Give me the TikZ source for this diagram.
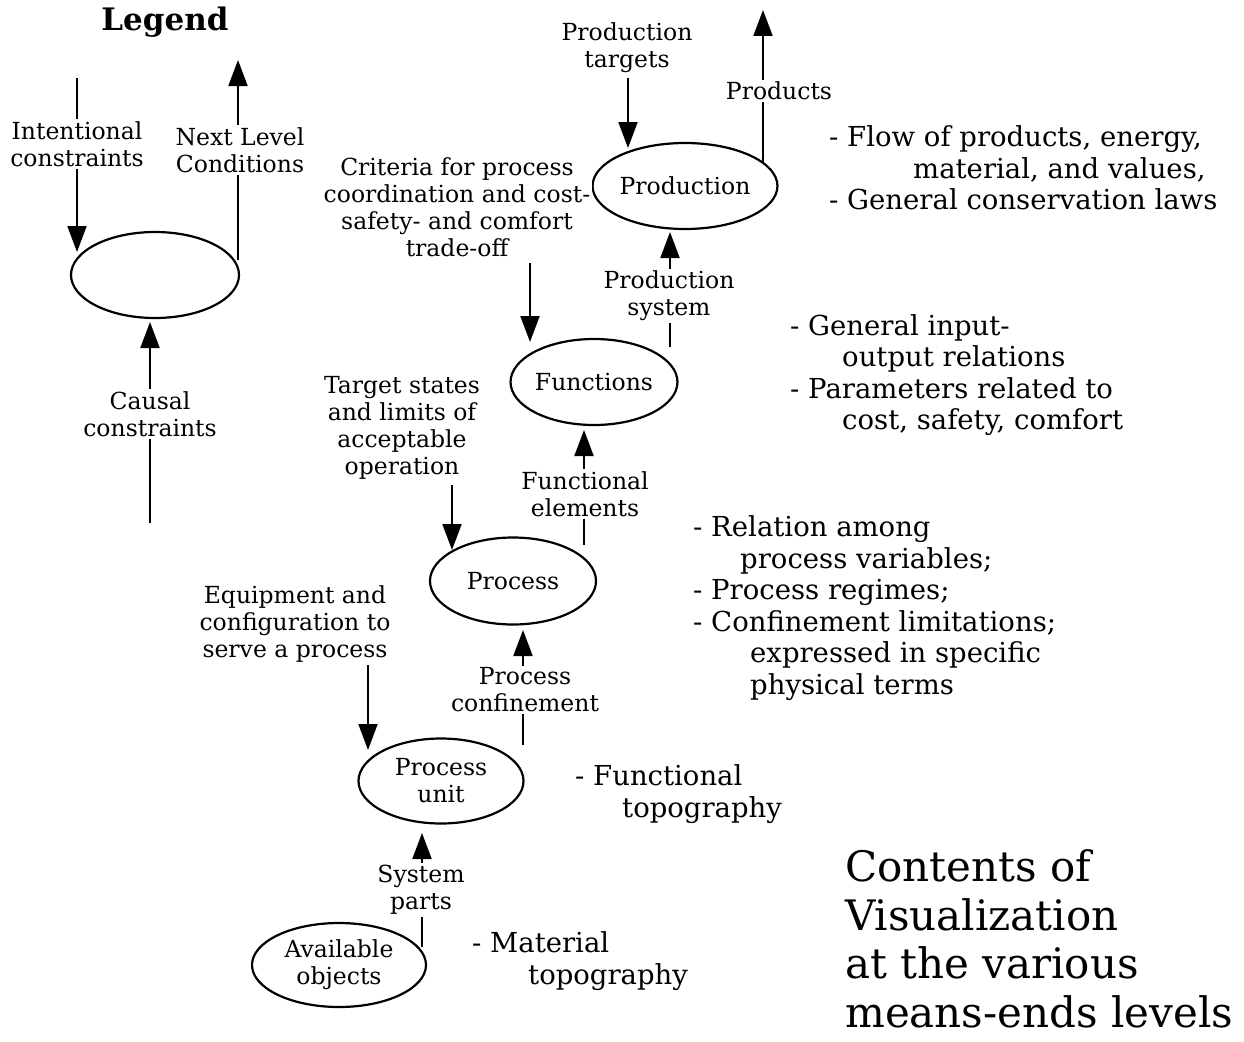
\documentclass[tikz,border=0pt]{standalone}
\usepackage{fontspec}
\setmainfont{DejaVu Serif}
\usetikzlibrary{arrows.meta,shapes.geometric}
\begin{document}
\begin{tikzpicture}[x=1pt,y=-1pt,
  lev/.style={draw,ellipse,line width=2.2pt,inner sep=0pt,align=center,
    font=\fontsize{23.5}{27}\selectfont},
  lbl/.style={fill=white,inner sep=2pt,align=center,font=\fontsize{23.5}{27}\selectfont},
  desc/.style={inner sep=0pt,anchor=west,align=left,font=\fontsize{27.5}{31.5}\selectfont},
  flow/.style={line width=2pt,-{Triangle[length=26pt,width=19pt]}}]
\useasboundingbox (0,0) rectangle (1244,1041);
% Legend
\node[font=\fontsize{31}{36}\selectfont\bfseries] (legend) at (165,22) {Legend};
\node[lev,minimum width=168pt,minimum height=86pt] (lg) at (155,275) {};
\coordinate (lgA) at (77,78);   \coordinate (lgAt) at (77,252);
\coordinate (lgB) at (238,260); \coordinate (lgBt) at (238,60);
\coordinate (lgC) at (150,523); \coordinate (lgCt) at (150,322);
\draw[flow] (lgA) -- (lgAt);
\draw[flow] (lgB) -- (lgBt);
\draw[flow] (lgC) -- (lgCt);
\node[lbl] (lgAl) at (77,144) {Intentional\\constraints};
\node[lbl] (lgBl) at (240,150) {Next Level\\Conditions};
\node[lbl] (lgCl) at (150,414) {Causal\\constraints};
% Levels
\node[lev,minimum width=164pt,minimum height=86pt] (prod) at (685,186) {Production};
\node[lev,minimum width=165pt,minimum height=86pt] (func) at (594,382) {Functions};
\node[lev,minimum width=166pt,minimum height=87pt] (proc) at (513,581) {Process};
\node[lev,minimum width=165pt,minimum height=85pt] (unit) at (441,781) {Process\\unit};
\node[lev,minimum width=174pt,minimum height=84pt] (avail) at (339,965) {Available\\objects};
% Production
\coordinate (ptA) at (628,78);  \coordinate (ptAt) at (628,148);
\draw[flow] (ptA) -- (ptAt);
\node[lbl] (ptl) at (627,48) {Production\\targets};
\coordinate (prA) at (763,163); \coordinate (prAt) at (763,10);
\draw[flow] (prA) -- (prAt);
\node[lbl] (prl) at (779,91) {Products};
% Functions
\coordinate (crA) at (530,263); \coordinate (crAt) at (530,342);
\draw[flow] (crA) -- (crAt);
\node[lbl] (crl) at (457,207) {Criteria for process\\coordination and cost-\\safety- and comfort\\trade-off};
\coordinate (psA) at (670,347); \coordinate (psAt) at (670,232);
\draw[flow] (psA) -- (psAt);
\node[lbl] (psl) at (669,296) {Production\\system};
% Process
\coordinate (tsA) at (452,485); \coordinate (tsAt) at (452,550);
\draw[flow] (tsA) -- (tsAt);
\node[lbl] (tsl) at (402,428) {Target states\\and limits of\\acceptable\\operation};
\coordinate (feA) at (584,545); \coordinate (feAt) at (584,430);
\draw[flow] (feA) -- (feAt);
\node[lbl] (fel) at (585,494) {Functional\\elements};
% Process unit
\coordinate (eqA) at (368,665); \coordinate (eqAt) at (368,750);
\draw[flow] (eqA) -- (eqAt);
\node[lbl] (eql) at (295,624) {Equipment and\\configuration to\\serve a process};
\coordinate (pcA) at (523,745); \coordinate (pcAt) at (523,630);
\draw[flow] (pcA) -- (pcAt);
\node[lbl] (pcl) at (525,690) {Process\\confinement};
% Available objects
\coordinate (spA) at (422,947); \coordinate (spAt) at (422,833);
\draw[flow] (spA) -- (spAt);
\node[lbl] (spl) at (421,890) {System\\parts};
% Descriptions
\node[desc] (d1) at (829,168) {- Flow of products, energy,\\\hspace*{84pt}material, and values,\\- General conservation laws};
\node[desc] (d2) at (790,375) {- General input-\\\hspace*{52pt}output relations\\- Parameters related to\\\hspace*{52pt}cost, safety, comfort};
\node[desc] (d3) at (693,608) {- Relation among\\\hspace*{47pt}process variables;\\- Process regimes;\\- Confinement limitations;\\\hspace*{57pt}expressed in specific\\\hspace*{57pt}physical terms};
\node[desc] (d4) at (575,794) {- Functional\\\hspace*{47pt}topography};
\node[desc] (d5) at (472,961) {- Material\\\hspace*{56pt}topography};
\node[desc,font=\fontsize{42}{48.5}\selectfont] (title) at (845,939) {Contents of\\Visualization\\at the various\\means-ends levels};
\end{tikzpicture}
\end{document}
